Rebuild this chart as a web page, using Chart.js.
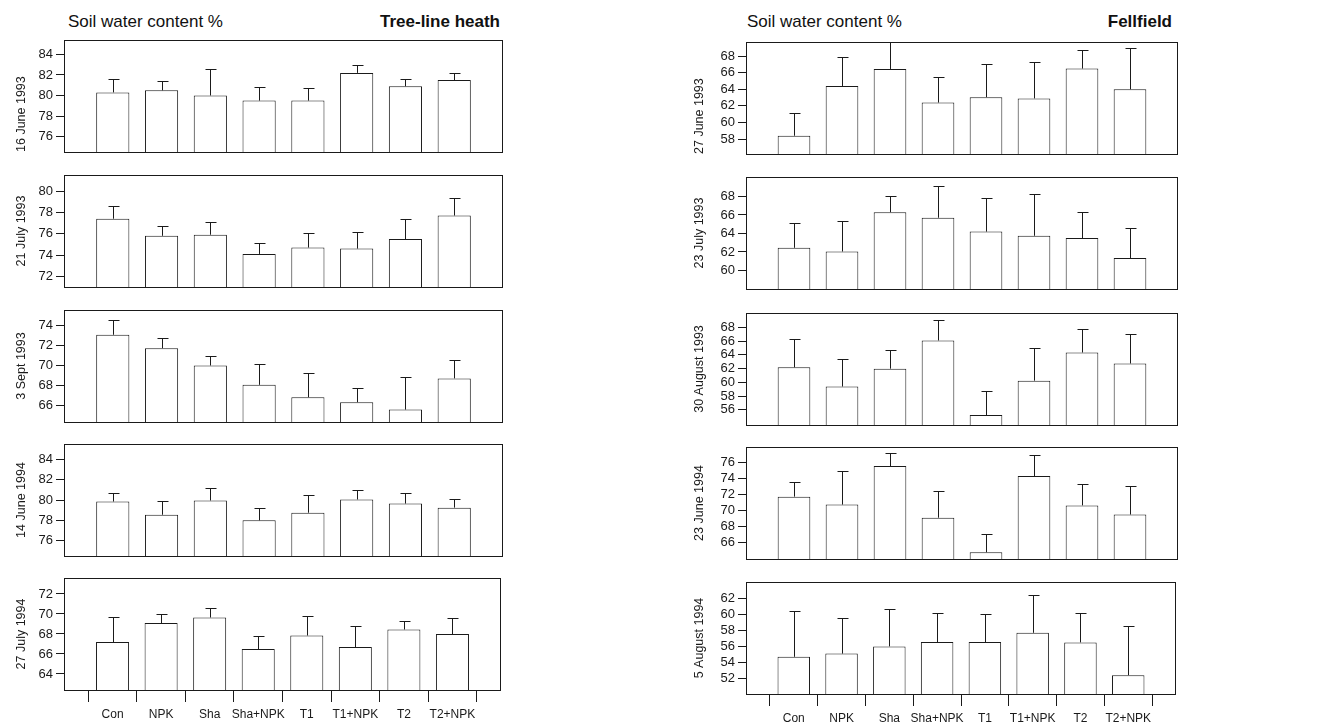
<!DOCTYPE html>
<html>
<head>
<meta charset="utf-8">
<script src="https://cdn.jsdelivr.net/npm/chart.js@4.4.1/dist/chart.umd.min.js"></script>
<style>
    body {
        margin: 0;
        width: 1326px;
        height: 726px;
        position: relative;
        overflow: hidden;
        background: #fff;
        font-family: "Liberation Sans", Arial, sans-serif;
        color: #111;
    }
    .panel { position: absolute; }
    .heading {
        position: absolute;
        font-size: 17px;
        line-height: 17px;
        white-space: nowrap;
    }
    .site { font-weight: bold; }
</style>
</head>
<body>
<div class="heading" style="left:68px;top:13px">Soil water content %</div>
<div class="heading site" style="right:826px;top:13px">Tree-line heath</div>
<div class="heading" style="left:747px;top:13px">Soil water content %</div>
<div class="heading site" style="right:154px;top:13px">Fellfield</div>
<script>
// Treatments along the x axis (shared by every panel)
const treatments = ['Con', 'NPK', 'Sha', 'Sha+NPK', 'T1', 'T1+NPK', 'T2', 'T2+NPK'];

// Tree-line heath
const heathDates = ['16 June 1993', '21 July 1993', '3 Sept 1993', '14 June 1994', '27 July 1994'];
const heathMeans = [
    [80.3, 80.5, 80.0, 79.5, 79.5, 82.2, 80.9, 81.5],
    [77.4, 75.8, 75.9, 74.1, 74.7, 74.6, 75.5, 77.7],
    [73.1, 71.75, 70.0, 68.05, 66.8, 66.3, 65.55, 68.7],
    [79.85, 78.55, 79.95, 78.0, 78.75, 80.05, 79.65, 79.25],
    [67.2, 69.1, 69.65, 66.5, 67.85, 66.7, 68.45, 68.0]
];
const heathErrors = [
    [1.3, 0.9, 2.6, 1.35, 1.2, 0.8, 0.7, 0.7],
    [1.15, 0.9, 1.2, 1.05, 1.4, 1.6, 1.9, 1.6],
    [1.45, 1.0, 1.0, 2.1, 2.4, 1.45, 3.25, 1.9],
    [0.8, 1.35, 1.2, 1.2, 1.7, 0.95, 1.0, 0.8],
    [2.45, 0.9, 0.95, 1.25, 1.95, 2.05, 0.85, 1.55]
];
const heathRanges = [[74.5, 85.4], [71.0, 81.5], [64.3, 75.6], [74.5, 85.5], [62.4, 73.6]];
const heathTicks = [
    [76, 78, 80, 82, 84],
    [72, 74, 76, 78, 80],
    [66, 68, 70, 72, 74],
    [76, 78, 80, 82, 84],
    [64, 66, 68, 70, 72]
];

// Fellfield
const fellDates = ['27 June 1993', '23 July 1993', '30 August 1993', '23 June 1994', '5 August 1994'];
const fellMeans = [
    [58.4, 64.4, 66.45, 62.4, 63.05, 62.9, 66.5, 64.0],
    [62.45, 62.05, 66.3, 65.7, 64.2, 63.75, 63.5, 61.35],
    [62.2, 59.4, 62.0, 66.1, 55.25, 60.25, 64.35, 62.75],
    [71.75, 70.75, 75.6, 69.1, 64.75, 74.35, 70.65, 69.5],
    [54.65, 55.05, 55.95, 56.5, 56.5, 57.65, 56.45, 52.35]
];
const fellErrors = [
    [2.8, 3.55, 3.3, 3.05, 4.0, 4.35, 2.2, 5.0],
    [2.7, 3.25, 1.8, 3.4, 3.6, 4.5, 2.8, 3.2],
    [4.1, 4.0, 2.65, 3.0, 3.45, 4.8, 3.35, 4.35],
    [1.9, 4.25, 1.6, 3.3, 2.35, 2.7, 2.7, 3.55],
    [5.75, 4.45, 4.65, 3.6, 3.45, 4.75, 3.7, 6.1]
];
const fellRanges = [[56.2, 69.7], [58.0, 70.1], [53.8, 70.1], [63.9, 78.0], [50.0, 64.0]];
const fellTicks = [
    [58, 60, 62, 64, 66, 68],
    [60, 62, 64, 66, 68],
    [56, 58, 60, 62, 64, 66, 68],
    [66, 68, 70, 72, 74, 76],
    [52, 54, 56, 58, 60, 62]
];

const INK = '#1a1a1a';
const FONT = '"Liberation Sans", Arial, sans-serif';

// upper-only error bars with a cap, drawn through the y scale
const errorBars = {
    id: 'errorBars',
    afterDatasetsDraw(chart, args, opts) {
        const { ctx, chartArea, scales: { y } } = chart;
        const meta = chart.getDatasetMeta(0);
        const values = chart.data.datasets[0].data;
        ctx.save();
        ctx.beginPath();
        ctx.rect(chartArea.left, chartArea.top, chartArea.right - chartArea.left, chartArea.bottom - chartArea.top);
        ctx.clip();
        ctx.strokeStyle = INK;
        ctx.lineWidth = 1;
        ctx.beginPath();
        opts.errors.forEach((err, i) => {
            const bar = meta.data[i + 1];
            const v = values[i + 1];
            const x = Math.round(bar.x) + 0.5;
            const yTop = Math.round(y.getPixelForValue(v + err)) + 0.5;
            const yBar = y.getPixelForValue(v);
            ctx.moveTo(x, yBar);
            ctx.lineTo(x, yTop);
            ctx.moveTo(x - 5, yTop);
            ctx.lineTo(x + 6, yTop);
        });
        ctx.stroke();
        ctx.restore();
    }
};

// full box around each plot
const frame = {
    id: 'frame',
    afterDraw(chart) {
        const { ctx, chartArea: a } = chart;
        ctx.save();
        ctx.strokeStyle = INK;
        ctx.lineWidth = 1;
        ctx.strokeRect(Math.round(a.left) + 0.5, Math.round(a.top) + 0.5,
            Math.round(a.right - a.left) - 1, Math.round(a.bottom - a.top));
        ctx.restore();
    }
};

const columns = [
    { dates: heathDates, means: heathMeans, errors: heathErrors, ranges: heathRanges, ticks: heathTicks,
      left: 0, plotRight: 503, titlePad: 14, tops: [40, 175, 310, 444, 578] },
    { dates: fellDates, means: fellMeans, errors: fellErrors, ranges: fellRanges, ticks: fellTicks,
      left: 682, plotRight: 1178, titlePad: 10, tops: [42, 177, 313, 447, 582] }
];

const AXIS_W = 64;
const BOX_H = 112;
const PAD = 14;
const X_AXIS_H = 36;

function makePanel(col, i) {
    const last = i === col.dates.length - 1;
    const width = col.plotRight - col.left + 3;
    const height = PAD + BOX_H + (last ? X_AXIS_H : PAD);

    const holder = document.createElement('div');
    holder.className = 'panel';
    holder.style.left = col.left + 'px';
    holder.style.top = (col.tops[i] - PAD) + 'px';
    const canvas = document.createElement('canvas');
    canvas.width = width;
    canvas.height = height;
    holder.appendChild(canvas);
    document.body.appendChild(holder);

    const labels = [''].concat(treatments, ['']);
    const data = [null].concat(col.means[i], [null]);
    const [yMin, yMax] = col.ranges[i];
    const yTicks = col.ticks[i];

    new Chart(canvas, {
        type: 'bar',
        data: {
            labels: labels,
            datasets: [{
                data: data,
                base: yMin,
                backgroundColor: '#fff',
                borderColor: INK,
                borderWidth: 1,
                borderSkipped: 'start',
                categoryPercentage: 1,
                barPercentage: 0.68
            }]
        },
        options: {
            responsive: false,
            animation: false,
            devicePixelRatio: 1,
            layout: { padding: { left: 0, right: 3, top: PAD, bottom: last ? 0 : PAD } },
            plugins: {
                legend: { display: false },
                tooltip: { enabled: false },
                errorBars: { errors: col.errors[i] }
            },
            scales: {
                x: {
                    type: 'category',
                    offset: false,
                    display: last,
                    border: { display: false },
                    grid: { display: true, drawOnChartArea: false, drawTicks: true, tickLength: 12, color: INK },
                    ticks: { color: INK, padding: 5, maxRotation: 0, autoSkip: false, font: { family: FONT, size: 12 } },
                    afterFit: (scale) => { scale.height = last ? X_AXIS_H : 0; }
                },
                y: {
                    min: yMin,
                    max: yMax,
                    border: { display: false },
                    grid: { drawOnChartArea: false, drawTicks: true, tickLength: 8, color: INK },
                    ticks: { color: INK, padding: 3, autoSkip: false, font: { family: FONT, size: 13 } },
                    title: {
                        display: true,
                        text: col.dates[i],
                        color: INK,
                        align: i === 0 ? 'start' : 'center',
                        padding: { top: col.titlePad, bottom: 0 },
                        font: { family: FONT, size: 12.5 }
                    },
                    afterBuildTicks: (scale) => { scale.ticks = yTicks.map(v => ({ value: v })); },
                    afterFit: (scale) => { scale.width = AXIS_W; }
                }
            }
        },
        plugins: [errorBars, frame]
    });
}

columns.forEach(col => {
    col.dates.forEach((d, i) => makePanel(col, i));
});
</script>
</body>
</html>
